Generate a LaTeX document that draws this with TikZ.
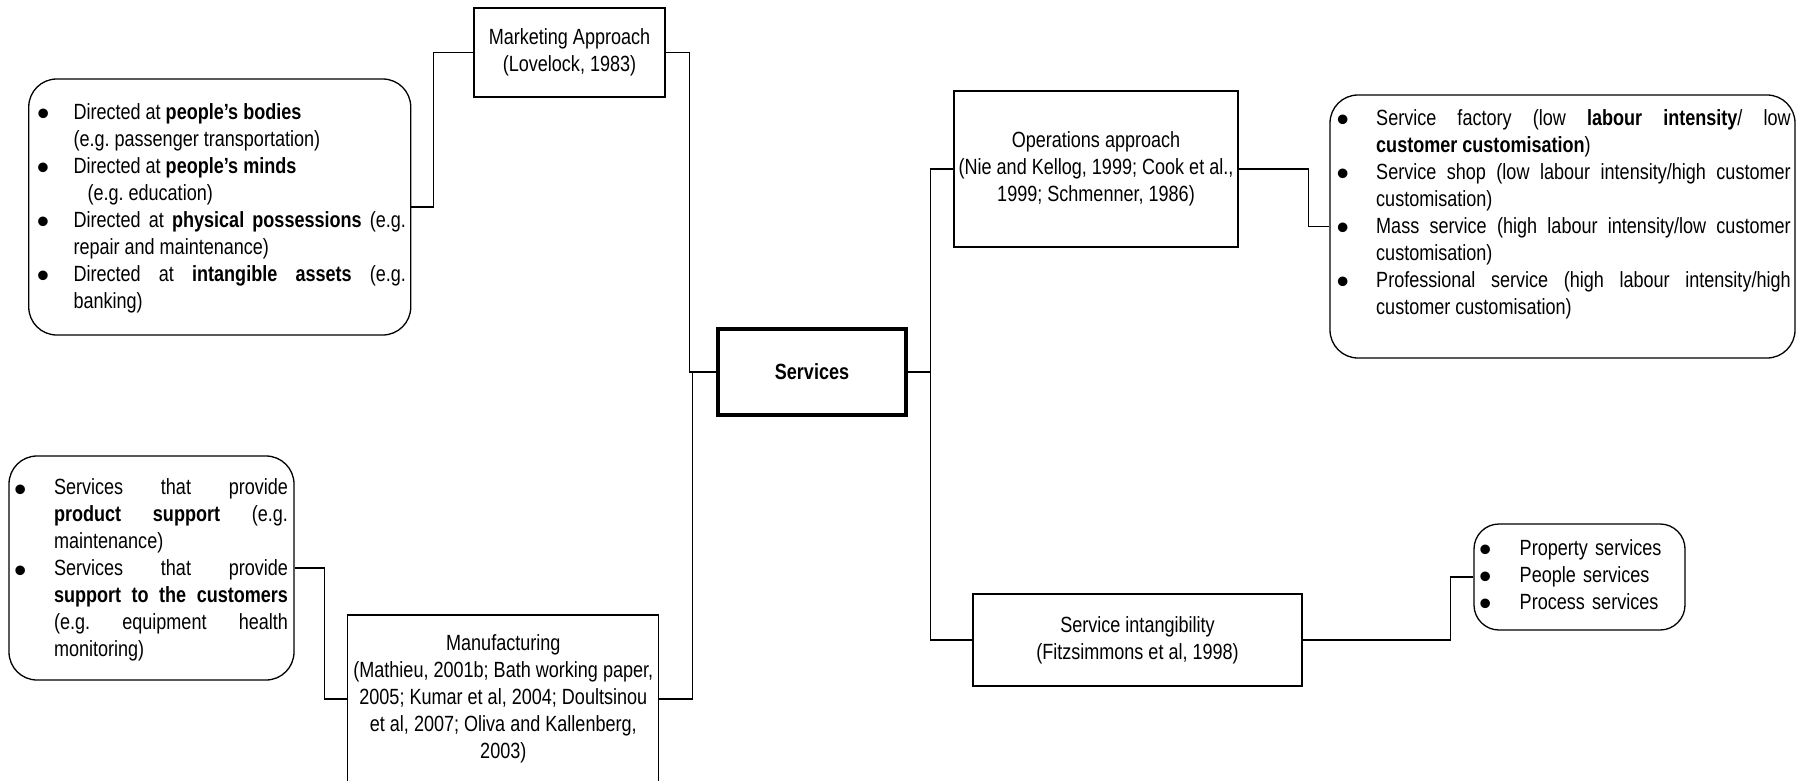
\documentclass[tikz,border=0pt]{standalone}
\usepackage{fontspec}
\setmainfont{Liberation Sans}[FakeStretch=0.82]
\usetikzlibrary{calc}
\frenchspacing
% a solid round bullet, a little larger than the font's own
\newcommand{\dotmark}{\raisebox{-6.5pt}{\scalebox{1.95}[1.6]{\textbullet}}}
% bullet item with a hanging indent (#1 = distance from bullet to text)
\newcommand{\bul}[2][36.5pt]{\par\noindent\hangindent=#1\hangafter=1\makebox[#1][l]{\dotmark}\ignorespaces#2\par}

\begin{document}
\begin{tikzpicture}[x=1pt, y=-1pt,
  font=\fontsize{22}{27}\selectfont,
  plainbox/.style={draw, line width=1.3pt, rectangle, align=center, inner sep=0pt},
  rbox/.style={draw, line width=1.3pt, rectangle, rounded corners=28pt, inner sep=0pt},
  listtext/.style={align=justify, inner sep=0pt},
  wire/.style={line width=1.3pt}]

\useasboundingbox (0,0) rectangle (1798,781);
\fill[white] (0,0) rectangle (1798,781);

% central node
\node[plainbox, line width=4.5pt, minimum width=188pt, minimum height=86pt,
      font=\fontsize{22}{27}\selectfont\bfseries] (svc) at (812,372) {Services};

% approaches
\node[plainbox, minimum width=191pt, minimum height=89pt] (mkt) at (569.5,52.5)
  {Marketing Approach\\(Lovelock, 1983)};
\node[plainbox, minimum width=311pt, minimum height=168pt] (manu) at (503.3,699)
  {Manufacturing\\(Mathieu, 2001b; Bath working paper,\\2005; Kumar et al, 2004; Doultsinou\\et al, 2007; Oliva and Kallenberg,\\2003)};
\node[plainbox, minimum width=284pt, minimum height=156pt] (ops) at (1096,169)
  {Operations approach\\(Nie and Kellog, 1999; Cook et al.,\\1999; Schmenner, 1986)};
\node[plainbox, minimum width=329pt, minimum height=92pt] (intang) at (1137.5,640)
  {Service intangibility\\(Fitzsimmons et al, 1998)};

% classification lists
\node[rbox, minimum width=382pt, minimum height=256pt] (dirbox) at (219.75,207) {};
\node[listtext, text width=369pt] (dirtext) at (221.5,202.5) {%
  \bul{Directed at \textbf{people’s bodies}\newline (e.g. passenger transportation)}
  \bul{Directed at \textbf{people’s minds}\newline\hspace*{14pt}(e.g. education)}
  \bul{Directed at \textbf{physical possessions} (e.g.\linebreak repair and maintenance)}
  \bul{Directed at \textbf{intangible assets} (e.g.\linebreak banking)}};

\node[rbox, minimum width=285pt, minimum height=224pt] (supbox) at (151.5,568) {};
\node[listtext, text width=274pt] (suptext) at (151,564.5) {%
  \bul[40pt]{Services that provide\linebreak \textbf{product support} (e.g.\linebreak maintenance)}
  \bul[40pt]{Services that provide\linebreak \textbf{support to the customers}\linebreak (e.g. equipment health\linebreak monitoring)}};

\node[rbox, minimum width=465pt, minimum height=263pt] (typebox) at (1562.5,226.5) {};
\node[listtext, text width=454pt] (typetext) at (1563.7,208.5) {%
  \bul[39.5pt]{Service factory (low \textbf{labour intensity}/ low\linebreak \textbf{customer customisation})}
  \bul[39.5pt]{Service shop (low labour intensity/high customer\linebreak customisation)}
  \bul[39.5pt]{Mass service (high labour intensity/low customer\linebreak customisation)}
  \bul[39.5pt]{Professional service (high labour intensity/high\linebreak customer customisation)}};

\node[rbox, rounded corners=25pt, minimum width=211pt, minimum height=106pt] (propbox) at (1579.5,577) {};
\node[inner sep=0pt, align=left, text width=190pt, anchor=west] (proptext) at (1479,572) {%
  \bul[40.5pt]{Property services}
  \bul[40.5pt]{People services}
  \bul[40.5pt]{Process services}};

% connectors
\draw[wire] (mkt.west) -- ++(-40,0) |- (dirbox.east);
\draw[wire] (mkt.east) -- ++(24,0) |- (svc.west);
\draw[wire] (manu.east) -| ($(svc.west)+(-23,0)$);
\draw[wire] (supbox.east) -- ++(30,0) |- (manu.west);
\draw[wire] (svc.east) -- ++(22,0) |- (ops.west);
\draw[wire] (svc.east) -- ++(22,0) |- (intang.west);
\draw[wire] (ops.east) -- ++(70,0) |- (typebox.west);
\draw[wire] (intang.east) -- ++(148,0) |- (propbox.west);
\end{tikzpicture}
\end{document}
